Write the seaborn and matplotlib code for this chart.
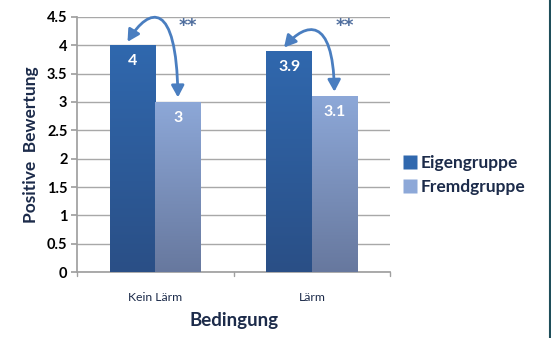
import numpy as np
import pandas as pd
import matplotlib
matplotlib.use("Agg")
import matplotlib.pyplot as plt
import seaborn as sns
from matplotlib.patches import FancyArrowPatch
from matplotlib.path import Path
from matplotlib.colors import LinearSegmentedColormap
from matplotlib.lines import Line2D

conditions = ["Kein Lärm", "Lärm"]
groups = ["Eigengruppe", "Fremdgruppe"]
eigen = [4.0, 3.9]
fremd = [3.0, 3.1]
value_labels = {"Eigengruppe": ["4", "3.9"], "Fremdgruppe": ["3", "3.1"]}
significance = ["**", "**"]
yticks = [0, 0.5, 1, 1.5, 2, 2.5, 3, 3.5, 4, 4.5]
ytick_labels = ["0", "0.5", "1", "1.5", "2", "2.5", "3", "3.5", "4", "4.5"]

df = pd.DataFrame({
    "Bedingung": conditions * 2,
    "Gruppe": [groups[0]] * 2 + [groups[1]] * 2,
    "Wert": eigen + fremd,
})

sns.set_theme(style="white")
plt.rcParams["font.family"] = ["Lato", "DejaVu Sans"]

top_cols = {"Eigengruppe": "#3068AE", "Fremdgruppe": "#8DA8D8"}
bot_cols = {"Eigengruppe": "#2A4F86", "Fremdgruppe": "#67789E"}
navy = "#1C2B4A"

fig = plt.figure(figsize=(5.51, 3.38), dpi=100)
ax = fig.add_axes([0.14, 0.195, 0.568, 0.755])

sns.barplot(data=df, x="Bedingung", y="Wert", hue="Gruppe", order=conditions,
            hue_order=groups, palette=[top_cols[g] for g in groups],
            width=0.58, ax=ax, legend=True, errorbar=None, saturation=1,
            edgecolor="none", linewidth=0, zorder=3)

ax.set_ylim(0, 4.5)
ax.set_xlim(-0.5, 1.5)
ax.set_yticks(yticks)
ax.set_yticklabels(ytick_labels, fontsize=10.5, fontweight="bold", color="black")
ax.yaxis.grid(True, color="#A8A8A8", linewidth=1.0, zorder=0)
ax.set_axisbelow(True)

# gradient fill for bars
for gi, g in enumerate(groups):
    cont = ax.containers[gi]
    cmap = LinearSegmentedColormap.from_list(g, [bot_cols[g], top_cols[g]])
    grad = np.linspace(0, 1, 256).reshape(-1, 1)
    for bi, p in enumerate(cont.patches):
        x0, w = p.get_x(), p.get_width()
        h = p.get_height()
        im = ax.imshow(grad, extent=[x0, x0 + w, 0, h], origin="lower",
                       cmap=cmap, aspect="auto", zorder=3.5)
        im.set_clip_path(p)
        ax.text(x0 + w / 2, h - 0.28, value_labels[g][bi], ha="center",
                va="center", color="white", fontsize=11.5, fontweight="bold",
                zorder=5)
ax.set_xlim(-0.5, 1.5)
ax.set_ylim(0, 4.5)

# spines / ticks
for s in ["top", "right"]:
    ax.spines[s].set_visible(False)
ax.spines["left"].set_color("#A0A0A0")
ax.spines["bottom"].set_color("#A0A0A0")
ax.tick_params(axis="y", length=4, color="#A0A0A0", left=True, pad=3)
ax.set_xticks([0, 1])
ax.set_xticklabels(conditions, fontsize=8.8, color=navy)
ax.tick_params(axis="x", length=0, pad=14)
for xb in [-0.5, 0.5, 1.5]:
    ax.plot([xb, xb], [0, -0.07], color="#A0A0A0", lw=1, clip_on=False,
            transform=ax.transData)

ax.set_xlabel("Bedingung", fontsize=13.5, fontweight="bold", color=navy,
              labelpad=7)
ax.set_ylabel("Positive  Bewertung", fontsize=12.5, fontweight="bold",
              color=navy, labelpad=6)

# significance arrows (curved, double-headed) from dark bar top to light bar top
arrow_col = "#4A7EC0"
peak_extra = [0.68, 0.5]
for ci in range(2):
    y0 = eigen[ci] + 0.06
    y3 = fremd[ci] + 0.08
    top = eigen[ci] + peak_extra[ci]
    verts = [(ci - 0.178, y0), (ci - 0.04, top), (ci + 0.135, top + 0.13),
             (ci + 0.144, y3)]
    path = Path(verts, [Path.MOVETO, Path.CURVE4, Path.CURVE4, Path.CURVE4])
    a = FancyArrowPatch(path=path,
                        arrowstyle="<|-|>,head_length=7,head_width=3.8",
                        color=arrow_col, lw=2.0, zorder=6, clip_on=False)
    ax.add_patch(a)
    ax.text(ci + 0.21, 4.34, significance[ci], ha="center", va="center",
            color="#4F6E9E", fontsize=12.5, fontweight="bold", zorder=6,
            family="DejaVu Sans")

# legend
handles = [Line2D([0], [0], marker="s", linestyle="none", markersize=10,
                  markerfacecolor=top_cols[g], markeredgecolor="none")
           for g in groups]
ax.legend(handles, groups, loc="center left", bbox_to_anchor=(1.0, 0.38),
          frameon=False, prop={"size": 12.5, "weight": "bold"},
          labelcolor=navy, handletextpad=0.15, handlelength=0.9,
          labelspacing=0.45, borderaxespad=0.3)

fig.add_artist(Line2D([549.5 / 551, 549.5 / 551], [0, 1], color="#1F4E5A",
                      lw=1.5, transform=fig.transFigure))

fig.savefig("out.png", dpi=100)
